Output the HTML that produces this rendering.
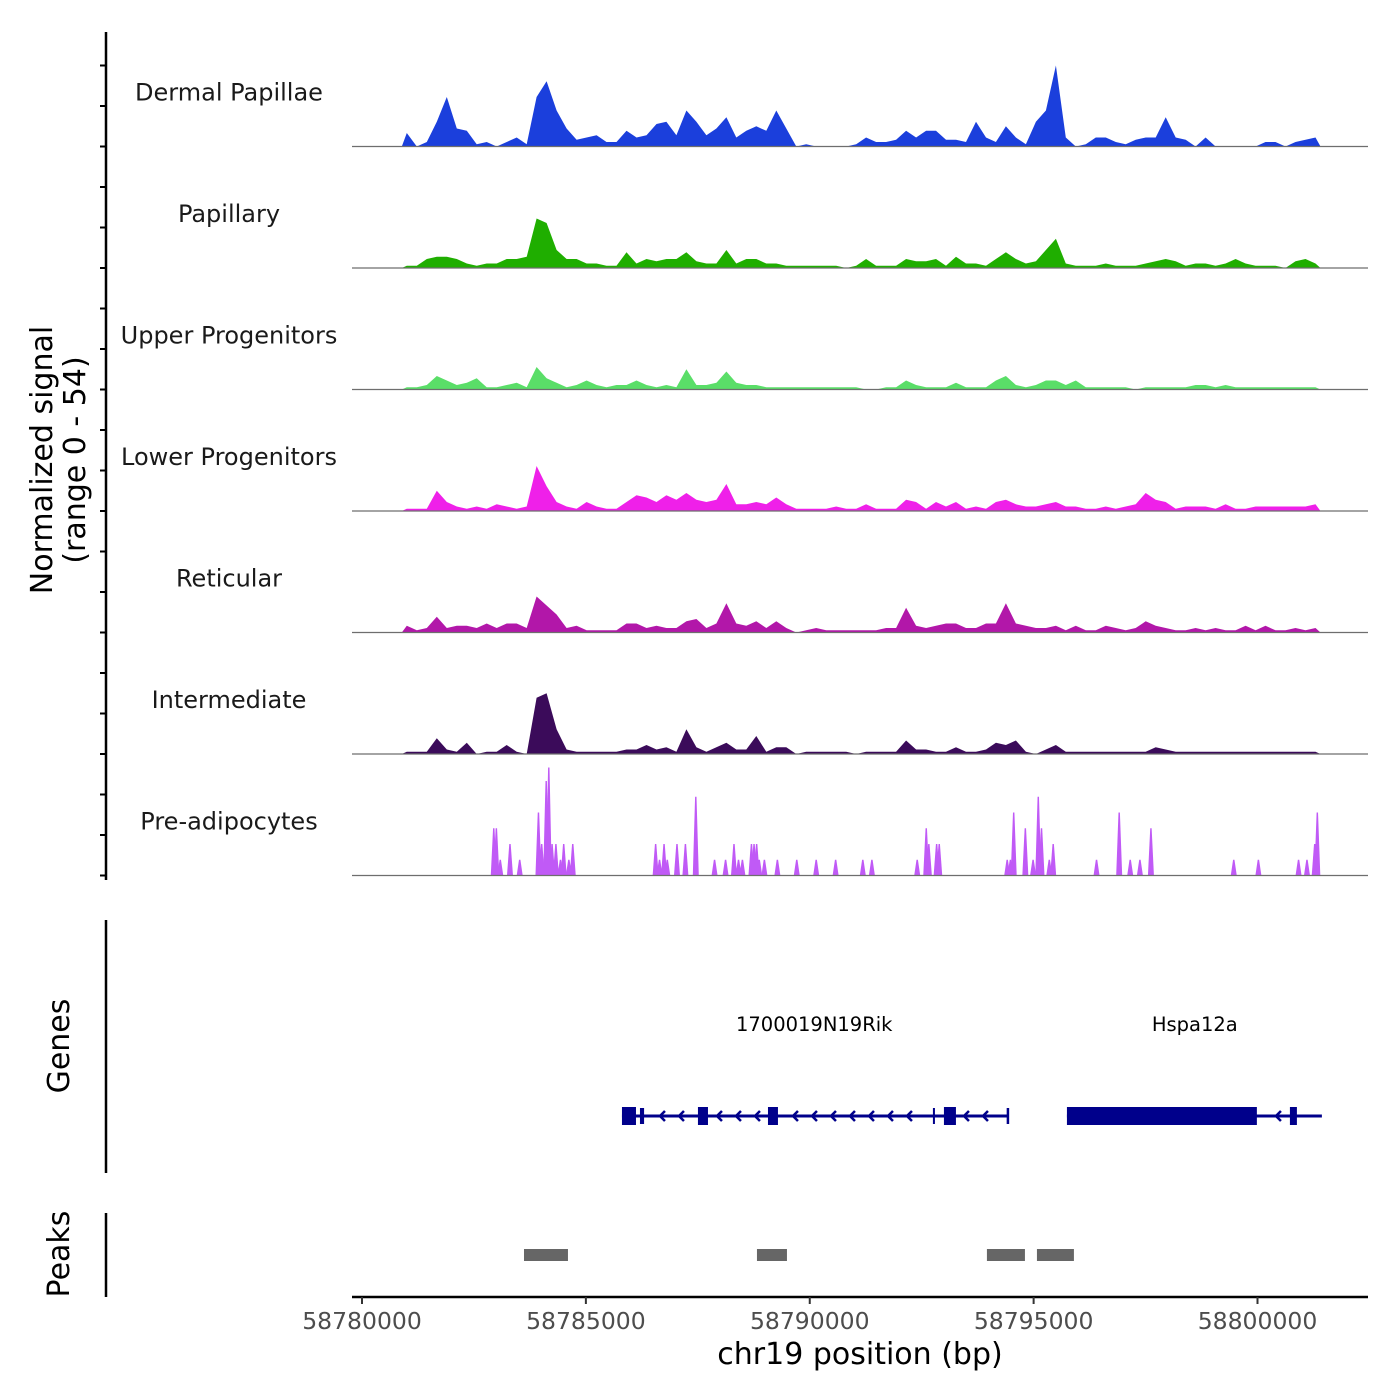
<!DOCTYPE html>
<html><head><meta charset="utf-8"><style>
html,body{margin:0;padding:0;background:#fff;}
svg{display:block;font-family:"DejaVu Sans","Liberation Sans",sans-serif;}
</style></head><body>
<svg id="chart" width="1400" height="1400" viewBox="0 0 1400 1400" xmlns="http://www.w3.org/2000/svg">
<g id="left">
<line x1="106" y1="32" x2="106" y2="880" stroke="#000" stroke-width="2.5"/>
<line x1="106" y1="920" x2="106" y2="1173" stroke="#000" stroke-width="2.5"/>
<line x1="106" y1="1213" x2="106" y2="1297" stroke="#000" stroke-width="2.5"/>
<text transform="translate(52,460) rotate(-90)" text-anchor="middle" font-size="30" fill="#000"><tspan x="0" dy="0">Normalized signal</tspan><tspan x="0" dy="33">(range 0 - 54)</tspan></text>
<text transform="translate(69,1046) rotate(-90)" text-anchor="middle" font-size="30" fill="#000">Genes</text>
<text transform="translate(69,1254) rotate(-90)" text-anchor="middle" font-size="30" fill="#000">Peaks</text>
</g>
<g id="tracks"></g>
<g id="genes"></g>
<g id="peaks"></g>
<g id="xaxis">
<line x1="352" y1="1297" x2="1368" y2="1297" stroke="#000" stroke-width="2.5"/>
<text x="860" y="1364" text-anchor="middle" font-size="30" fill="#000">chr19 position (bp)</text>
</g>
</svg>
<script>
// ---- data ----
const trackNames = ["Dermal Papillae","Papillary","Upper Progenitors","Lower Progenitors","Reticular","Intermediate","Pre-adipocytes"];
const trackColors = ["#1b3fdc","#1fae00","#5ade68","#ef20e9","#b217a9","#3b0b5a","#c05af6"];
const binStart = 58780890;
const binSize = 223;
const dermal = [6,0,2,11,22,8,7,1,2,0,2,4,1,22,29,16,8,3,4,5,2,2,7,4,5,10,11,5,16,11,5,8,13,4,7,9,7,16,8,0,1,0,0,0,0,1,4,2,2,3,7,4,7,7,3,3,2,11,4,2,9,4,1,11,16,36,4,0,1,4,4,2,1,3,4,4,13,4,3,0,4,0,0,0,0,0,2,2,0,2,3,4];
const papillary = [1,1,4,5,5,4,2,1,2,2,4,4,5,22,20,8,4,4,2,2,1,1,7,2,4,3,4,4,7,3,2,2,8,2,4,4,2,2,1,1,1,1,1,1,0,1,4,1,1,1,4,3,3,4,1,5,2,2,1,4,7,4,2,3,8,13,2,1,1,1,2,1,1,1,2,3,4,3,1,2,2,1,2,4,2,1,1,1,0,3,4,2];
const upperProg = [1,1,2,6,4,2,3,5,1,1,2,3,1,10,5,3,1,2,4,2,1,2,2,4,2,1,2,1,9,2,2,3,8,3,2,2,1,1,1,1,1,1,1,1,1,1,0,0,1,1,4,2,1,1,1,3,1,1,1,4,6,2,1,2,4,4,2,4,1,1,1,1,1,0,1,1,1,1,1,2,2,1,2,1,1,1,1,1,1,1,1,1];
const lowerProg = [1,1,1,9,4,2,1,2,1,3,2,1,2,20,11,4,2,1,4,2,1,1,4,7,6,4,7,5,8,5,4,5,12,3,3,4,3,6,3,1,1,1,1,2,1,1,3,1,1,1,5,4,1,4,2,4,1,2,1,4,5,3,2,2,3,4,2,2,1,1,2,1,2,3,8,5,4,1,2,2,2,1,3,1,1,2,2,2,2,2,2,3];
const reticular = [3,1,2,7,2,3,3,2,4,2,4,4,2,16,12,8,2,3,1,1,1,1,4,4,2,3,2,2,5,6,2,4,13,4,3,5,2,5,2,0,1,2,1,1,1,1,1,1,2,2,11,3,2,3,4,4,2,2,4,4,13,4,3,2,2,3,1,3,1,1,3,2,1,2,5,3,2,1,1,2,1,2,1,1,3,1,3,1,1,2,1,2];
const intermediate = [1,1,1,7,2,1,5,0,1,1,4,1,0,25,27,11,2,1,1,1,1,1,2,2,4,2,3,1,11,3,1,3,5,2,2,8,1,3,3,0,1,1,1,1,1,0,1,1,1,1,6,2,2,1,1,3,1,1,2,5,4,6,1,0,2,4,1,1,1,1,1,1,1,1,1,3,2,1,1,1,1,1,1,1,1,1,1,1,1,1,1,1];
const preadipoPos = [2943,3001,3088,3305,3522,3941,4013,4114,4172,4245,4331,4433,4505,4620,4707,6558,6645,6746,6818,7035,7223,7455,7874,8120,8308,8409,8496,8698,8756,8814,8872,8987,9277,9710,10144,10578,11185,11388,12400,12602,12660,12834,12892,14410,14482,14555,14815,14988,15104,15176,15350,15437,16405,16911,17157,17374,17620,19470,20020,20917,21105,21278,21336];
const preadipoVal = [21,21,7,14,7,28,14,42,48,14,14,7,14,7,14,14,7,14,7,14,14,35,7,7,14,7,7,14,14,14,7,7,7,7,7,7,7,7,7,21,14,14,14,7,7,28,21,7,35,21,7,14,7,28,7,7,21,7,7,7,7,14,28];
const xTicks = [58780000,58785000,58790000,58795000,58800000];
const geneNames = ["1700019N19Rik","Hspa12a"];
const geneStart = [5806,15744];
const geneEnd = [14426,21438];
const geneLabelPos = [10100,18600];
const exonStart = [5806,6208,7503,9067,12751,12997,15744,20724];
const exonEnd = [6119,6300,7727,9290,12796,13265,19986,20880];
const exonThin = [0,1,0,0,1,0,0,0];
const peakStart = [3618,8821,13957,15074];
const peakEnd = [4600,9491,14806,15900];

// ---- scales ----
const X0 = 362, PXBP = 0.044775, ORIGIN = 58780000;
function xs(bp){ return X0 + (bp - ORIGIN) * PXBP; }
function xr(rel){ return X0 + rel * PXBP; }
const TRACK_H = 121.5, MAXV = 54;
function baseY(i){ return 146.5 + i * TRACK_H; }
function ys(i, v){ return baseY(i) - v * TRACK_H / MAXV; }

const NS = "http://www.w3.org/2000/svg";
function mk(tag, attrs, parent){ const e = document.createElementNS(NS, tag); for (const k in attrs) e.setAttribute(k, attrs[k]); parent.appendChild(e); return e; }

const tracksG = document.getElementById("tracks");
const series = [dermal, papillary, upperProg, lowerProg, reticular, intermediate];
const keys = ["dermal-papillae","papillary","upper-progenitors","lower-progenitors","reticular","intermediate","pre-adipocytes"];

const leftG = document.getElementById("left");
for (let t = 0; t <= 21; t++) {
  const y = baseY(6) - t * TRACK_H / 3;
  if (y < 40) continue;
  const tk = mk("line", {x1:100, y1:y, x2:106, y2:y, stroke:"#000", "stroke-width":2}, leftG);
  
  
}

for (let i = 0; i < 7; i++) {
  const g = mk("g", {}, tracksG);
  
  
  const lab = mk("text", {x:229, y:baseY(i) - 46, "text-anchor":"middle", "font-size":"24", fill:"#1a1a1a"}, g);
  lab.textContent = trackNames[i];
  
  
  const b = baseY(i);
  if (i < 6) {
    const arr = series[i];
    let pts = [];
    const s0 = binStart - ORIGIN;
    pts.push(xr(s0).toFixed(1) + "," + b);
    for (let k = 0; k < arr.length; k++) {
      const xc = xr(s0 + (k + 0.5) * binSize);
      pts.push(xc.toFixed(1) + "," + ys(i, arr[k]).toFixed(1));
    }
    pts.push(xr(s0 + arr.length * binSize).toFixed(1) + "," + b);
    const area = mk("polygon", {points: pts.join(" "), fill: trackColors[i]}, g);
    
    
  } else {
    for (let k = 0; k < preadipoPos.length; k++) {
      const xc = xr(preadipoPos[k]);
      const yt = ys(i, preadipoVal[k]);
      const sp = mk("polygon", {points: (xc-3)+","+b+" "+(xc-0.7)+","+yt+" "+(xc+0.7)+","+yt+" "+(xc+3)+","+b, fill: trackColors[i]}, g);
      
      
    }
  }
  const bl = mk("line", {x1:352, y1:b, x2:1368, y2:b, stroke:"#6e6e6e", "stroke-width":1.2}, g);
  
  
}

const genesG = document.getElementById("genes");
const GY = 1116, GC = "#00008b";
for (let j = 0; j < geneNames.length; j++) {
  const ln = mk("line", {x1:xr(geneStart[j]), y1:GY, x2:xr(geneEnd[j]), y2:GY, stroke:GC, "stroke-width":3}, genesG);
  
  
  const lt = mk("text", {x:xr(geneLabelPos[j]) , y:1031, "text-anchor":"middle", "font-size":"19.5", fill:"#000"}, genesG);
  lt.textContent = geneNames[j];
  
  
  for (let x = xr(geneStart[j]) + 20; x < xr(geneEnd[j]) - 8; x += 19) {
    let inExon = false;
    for (let e = 0; e < exonStart.length; e++) if (x > xr(exonStart[e]) - 6 && x < xr(exonEnd[e]) + 4) inExon = true;
    if (inExon) continue;
    const ch = mk("polyline", {points:(x+4)+","+(GY-5)+" "+(x-1)+","+GY+" "+(x+4)+","+(GY+5), fill:"none", stroke:GC, "stroke-width":2.5}, genesG);
    
    
  }
}
const endTick = mk("line", {x1:xr(geneEnd[0]), y1:GY-8, x2:xr(geneEnd[0]), y2:GY+8, stroke:GC, "stroke-width":2.5}, genesG);


for (let e = 0; e < exonStart.length; e++) {
  const x1 = xr(exonStart[e]), x2 = xr(exonEnd[e]);
  const h = exonThin[e] ? 16 : 18;
  const r = mk("rect", {x:x1, y:GY - h/2, width:Math.max(2, x2 - x1), height:h, fill:GC}, genesG);
  
  
}

const peaksG = document.getElementById("peaks");
for (let p = 0; p < peakStart.length; p++) {
  const r = mk("rect", {x:xr(peakStart[p]), y:1249, width:xr(peakEnd[p]) - xr(peakStart[p]), height:12, fill:"#666"}, peaksG);
  
  
}

const xG = document.getElementById("xaxis");
for (let t = 0; t < xTicks.length; t++) {
  const x = xs(xTicks[t]);
  const tk = mk("line", {x1:x, y1:1297, x2:x, y2:1304, stroke:"#333", "stroke-width":2}, xG);
  
  
  const tl = mk("text", {x:x, y:1329, "text-anchor":"middle", "font-size":"23.5", fill:"#4d4d4d"}, xG);
  tl.textContent = xTicks[t];
  
  
}
</script>
</body></html>
